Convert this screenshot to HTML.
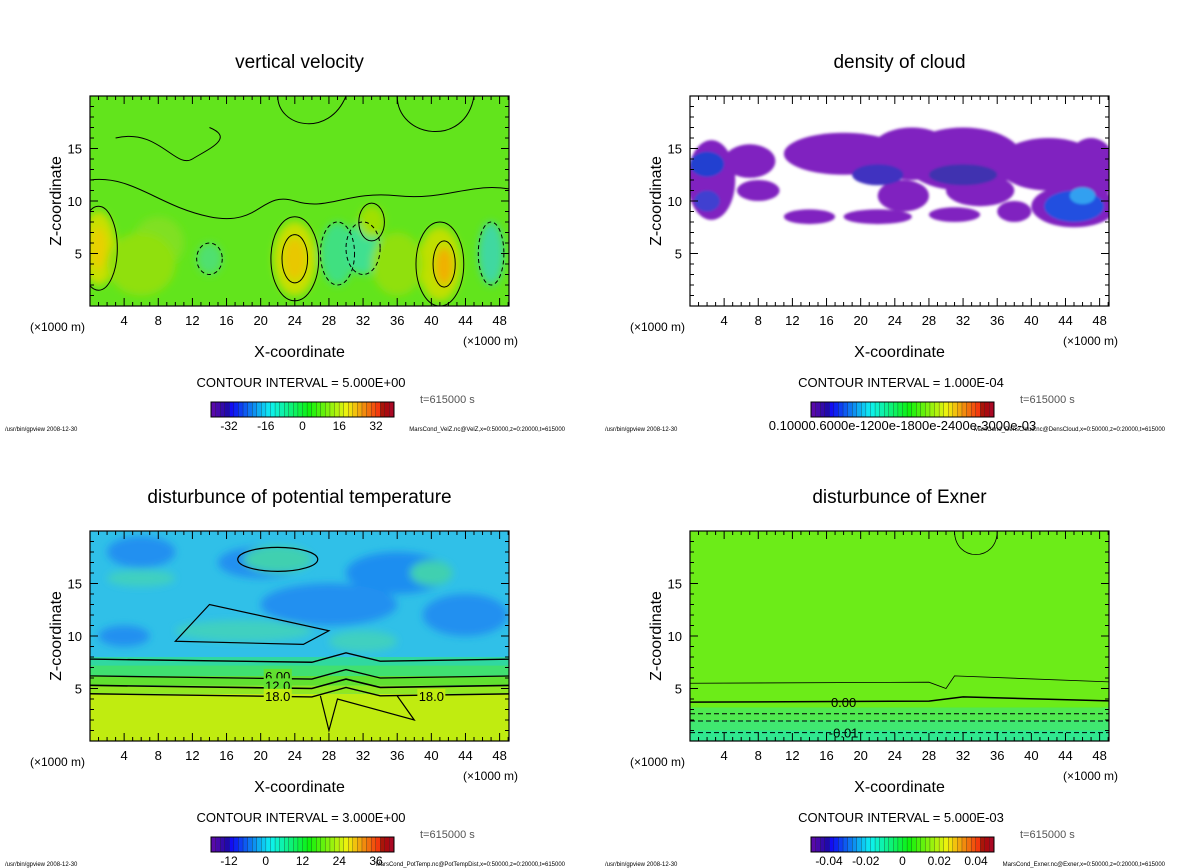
<!DOCTYPE html>
<html><head><meta charset="utf-8">
<style>
html,body{margin:0;padding:0;background:#fff;}
svg{display:block;font-family:"Liberation Sans","DejaVu Sans",sans-serif;}
</style></head>
<body>
<svg id="fig" width="1200" height="868" viewBox="0 0 1200 868" xmlns="http://www.w3.org/2000/svg">
<defs>
<filter id="bl" x="-50%" y="-50%" width="200%" height="200%"><feGaussianBlur stdDeviation="4"/></filter>
<filter id="bs" x="-50%" y="-50%" width="200%" height="200%"><feGaussianBlur stdDeviation="1.2"/></filter>
</defs>
</svg>
<script>
// ---- data ----
const xTicks = [4,8,12,16,20,24,28,32,36,40,44,48];
const zTicks = [5,10,15];
const titles = ["vertical velocity","density of cloud","disturbunce of potential temperature","disturbunce of Exner"];
const intervals = ["CONTOUR INTERVAL = 5.000E+00","CONTOUR INTERVAL = 1.000E-04","CONTOUR INTERVAL = 3.000E+00","CONTOUR INTERVAL = 5.000E-03"];
const cbLabels = [["-32","-16","0","16","32"],["0.10000.6000e-1200e-1800e-2400e-3000e-03"],["-12","0","12","24","36"],["-0.04","-0.02","0","0.02","0.04"]];
const files = ["MarsCond_VelZ.nc@VelZ,x=0:50000,z=0:20000,t=615000","MarsCond_DensCloud.nc@DensCloud,x=0:50000,z=0:20000,t=615000","MarsCond_PotTemp.nc@PotTempDist,x=0:50000,z=0:20000,t=615000","MarsCond_Exner.nc@Exner,x=0:50000,z=0:20000,t=615000"];
// blobs: [x km, z km, rx km, rz km, color]
const velBlobs = [[1,5.5,2,3.5,"#c8e000"],[1,5.5,1,2,"#e8d000"],[24,4.5,2.5,3.5,"#c8e000"],[24,4.5,1.3,2,"#e8c800"],[41,4,2.5,3.5,"#c0e000"],[41.5,3.8,1,1.8,"#f0b000"],[29,5,2,3,"#40e080"],[32,5.5,2,2.5,"#40e090"],[47,5,1.5,3,"#40d8a0"],[14,4.5,1.5,1.5,"#50e070"],[33,8,1.5,1.5,"#a0e000"],[8,6,3,2.5,"#80e020"],[6,4,4,3,"#90e010"],[36,4,3,3,"#90e010"]];
const cloudBlobs = [[2.5,12,2.8,3.8,"#8020c0"],[7,13.8,3,1.6,"#8020c0"],[8,11,2.5,1,"#8020c0"],[18,14.5,7,2,"#8020c0"],[26,14.5,5,2.5,"#8020c0"],[32,14,7,3,"#8020c0"],[42,13.5,6,2.5,"#8020c0"],[47,13,3,3,"#8020c0"],[45,9.5,5,2,"#8020c0"],[25,10.5,3,1.5,"#8020c0"],[34,11,4,1.5,"#8020c0"],[14,8.5,3,0.7,"#8020c0"],[22,8.5,4,0.7,"#8020c0"],[31,8.7,3,0.7,"#8020c0"],[38,9,2,1,"#8020c0"],[2,13.5,2,1.2,"#2040d0"],[22,12.5,3,1,"#4030c0"],[32,12.5,4,1,"#4030b0"],[45,9.5,3.5,1.5,"#2050e0"],[46,10.5,1.5,0.8,"#30a0f0"],[2,10,1.5,1,"#4040d0"]];
const thetaBands = [[0,4.5,"#c0ec10"],[4.5,5.3,"#90e820"],[5.3,6.2,"#60e030"],[6.2,7.2,"#40e070"],[7.2,8,"#30d8a0"],[8,20,"#30c0e8"]];
const thetaBlobs = [[6,18,4,1.5,"#2090f0"],[20,17,5,1.5,"#2090f0"],[36,16,6,2,"#1c8ef0"],[28,13,8,2,"#2090f0"],[44,12,5,2,"#2090f0"],[4,10,3,1,"#2090f0"],[22,17.3,4,1.3,"#40d0b0"],[40,16,2.5,1.2,"#40d0b0"],[18,10.5,8,1,"#40d0c0"],[32,9.5,4,1,"#40d0c0"],[6,15.5,4,0.8,"#40d0c0"]];
const exnerBands = [[0,1,"#30e890"],[1,2,"#40e870"],[2,3.2,"#50ea50"],[3.2,20,"#6cec18"]];
const panels = [[90,96],[690,96],[90,531],[690,531]];

const svg = document.getElementById('fig');
const NS = "http://www.w3.org/2000/svg";
const W = 419, H = 210, XMAX = 49.1, ZMAX = 20;
function mk(tag, attrs, parent){ const e=document.createElementNS(NS,tag); for(const k in attrs) e.setAttribute(k,attrs[k]); (parent||svg).appendChild(e); return e; }
function txt(x,y,s,size,anchor,parent,fill){ const t=mk('text',{x:x,y:y,'font-size':size,'text-anchor':anchor||'middle',fill:fill||'#000'},parent); t.textContent=s; return t; }

panels.forEach((p,i)=>{
  const [X0,Y0]=p;
  const sx = v => X0 + v/XMAX*W;
  const sz = v => Y0 + H - v/ZMAX*H;
  const g = mk('g',{});
  
  
  const t = txt(X0+W/2, Y0-28, titles[i], 19, 'middle', g);
  
  
  const cid='clip'+i;
  const cp=mk('clipPath',{id:cid},g); mk('rect',{x:X0,y:Y0,width:W,height:H},cp);
  const plot = mk('g',{'clip-path':'url(#'+cid+')'},g);
  
  
  let bg = ['#62e41c','#ffffff','#30c0e8','#6cec18'][i];
  mk('rect',{x:X0,y:Y0,width:W,height:H,fill:bg},plot);
  let blobs=[], bands=[];
  if(i===0) blobs=velBlobs; if(i===1) blobs=cloudBlobs; if(i===2){blobs=thetaBlobs;bands=thetaBands;} if(i===3) bands=exnerBands;
  bands.forEach(b=>{ const r=mk('rect',{x:X0,y:sz(b[1]),width:W,height:sz(b[0])-sz(b[1]),fill:b[2]},plot);
      });
  const bg2 = mk('g',{filter: i===1?'url(#bs)':'url(#bl)'},plot);
  blobs.forEach(b=>{ const e=mk('ellipse',{cx:sx(b[0]),cy:sz(b[1]),rx:b[2]/XMAX*W,ry:b[3]/ZMAX*H,fill:b[4]},bg2);
      });
  // contour lines
  if(i===0){
    [[1,5.5,2.2,4],[24,4.5,2.8,4],[41,4,2.8,4],[24,4.5,1.5,2.3],[41.5,4,1.3,2.2],[33,8,1.5,1.8]].forEach(c=>mk('ellipse',{cx:sx(c[0]),cy:sz(c[1]),rx:c[2]/XMAX*W,ry:c[3]/ZMAX*H,fill:'none',stroke:'#000','stroke-width':1},plot));
    [[29,5,2,3],[32,5.5,2,2.5],[47,5,1.5,3],[14,4.5,1.5,1.5]].forEach(c=>mk('ellipse',{cx:sx(c[0]),cy:sz(c[1]),rx:c[2]/XMAX*W,ry:c[3]/ZMAX*H,fill:'none',stroke:'#000','stroke-width':1,'stroke-dasharray':'4 3'},plot));
    mk('path',{d:`M${sx(0)},${sz(12)} C${sx(5)},${sz(12.5)} ${sx(8)},${sz(9.5)} ${sx(14)},${sz(8.5)} S${sx(20)},${sz(11)} ${sx(24)},${sz(10)} S${sx(30)},${sz(11)} ${sx(36)},${sz(10.5)} S${sx(45)},${sz(12)} ${sx(50)},${sz(11)}`,fill:'none',stroke:'#000'},plot);
    mk('path',{d:`M${sx(3)},${sz(16)} C${sx(8)},${sz(17)} ${sx(10)},${sz(13)} ${sx(12)},${sz(14)} S${sx(17)},${sz(16)} ${sx(14)},${sz(17)}`,fill:'none',stroke:'#000'},plot);
    mk('path',{d:`M${sx(22)},${sz(20)} C${sx(22)},${sz(17)} ${sx(28)},${sz(16)} ${sx(30)},${sz(20)}`,fill:'none',stroke:'#000'},plot);
    mk('path',{d:`M${sx(36)},${sz(20)} C${sx(36)},${sz(16)} ${sx(44)},${sz(15)} ${sx(45)},${sz(20)}`,fill:'none',stroke:'#000'},plot);
  }
  if(i===2){
    [[7.8,1.4],[6.2,1.3],[5.3,1.6],[4.5,1.4]].forEach(c=>mk('path',{d:`M${sx(0)},${sz(c[0])} L${sx(26)},${sz(c[0]-0.3)} L${sx(30)},${sz(c[0]+0.6)} L${sx(34)},${sz(c[0]-0.2)} L${sx(50)},${sz(c[0])}`,fill:'none',stroke:'#000','stroke-width':c[1]},plot));
    [["6.00",22,6.2],["12.0",22,5.3],["18.0",22,4.3],["18.0",40,4.3]].forEach(l=>{ mk('rect',{x:sx(l[1])-14,y:sz(l[2])-7,width:28,height:13,fill:l[2]>5?'#60e030':'#c0ec10'},plot); txt(sx(l[1]),sz(l[2])+5,l[0],13,'middle',plot);});
    mk('path',{d:`M${sx(10)},${sz(9.5)} L${sx(25)},${sz(9.2)} L${sx(28)},${sz(10.5)} L${sx(14)},${sz(13)} Z`,fill:'none',stroke:'#000','stroke-width':1.2},plot);
    mk('ellipse',{cx:sx(22),cy:sz(17.3),rx:40,ry:12,fill:'none',stroke:'#000','stroke-width':1.2},plot);
    mk('path',{d:`M${sx(27)},${sz(4.3)} L${sx(28)},${sz(1)} L${sx(29)},${sz(4)} L${sx(38)},${sz(2)} L${sx(36)},${sz(4.3)}`,fill:'none',stroke:'#000','stroke-width':1.2},plot);
  }
  if(i===3){
    mk('path',{d:`M${sx(0)},${sz(3.7)} L${sx(28)},${sz(3.8)} L${sx(32)},${sz(4.2)} L${sx(50)},${sz(3.8)}`,fill:'none',stroke:'#000','stroke-width':1.5},plot);
    mk('path',{d:`M${sx(0)},${sz(5.5)} L${sx(28)},${sz(5.6)} L${sx(30)},${sz(5)} L${sx(31)},${sz(6.2)} L${sx(50)},${sz(5.6)}`,fill:'none',stroke:'#000','stroke-width':0.8},plot);
    [2.6,1.9,0.8].forEach(z=>mk('path',{d:`M${sx(0)},${sz(z)} L${sx(50)},${sz(z)}`,fill:'none',stroke:'#000','stroke-dasharray':'5 3'},plot));
    mk('path',{d:`M${sx(31)},${sz(20)} C${sx(31)},${sz(17)} ${sx(36)},${sz(17)} ${sx(36)},${sz(20)}`,fill:'none',stroke:'#000','stroke-width':0.8},plot);
    txt(sx(18),sz(3.7)+5,"0.00",13,'middle',plot); txt(sx(18),sz(0.8)+5,"-0.01",13,'middle',plot);
  }
  // frame + ticks
  const fr=mk('rect',{x:X0,y:Y0,width:W,height:H,fill:'none',stroke:'#000','stroke-width':1.2},g);
   
  for(let v=1; v<XMAX; v++){ const L = v%4===0?8:4; mk('line',{x1:sx(v),y1:Y0+H,x2:sx(v),y2:Y0+H-L,stroke:'#000'},g); mk('line',{x1:sx(v),y1:Y0,x2:sx(v),y2:Y0+L,stroke:'#000'},g); }
  for(let v=1; v<ZMAX; v++){ const L = v%5===0?8:4; mk('line',{x1:X0,y1:sz(v),x2:X0+L,y2:sz(v),stroke:'#000'},g); mk('line',{x1:X0+W,y1:sz(v),x2:X0+W-L,y2:sz(v),stroke:'#000'},g); }
  xTicks.forEach(v=>{ const t=txt(sx(v),Y0+H+19,String(v),13,'middle',g);   });
  zTicks.forEach(v=>{ const t=txt(X0-8,sz(v)+5,String(v),13,'end',g);   });
  txt(X0-60,Y0+H+25,"(×1000 m)",12,'start',g); txt(X0+W+9,Y0+H+39,"(×1000 m)",12,'end',g);
  const xl=txt(X0+W/2,Y0+H+51,"X-coordinate",16,'middle',g);  
  const yl=txt(0,0,"Z-coordinate",16,'middle',g); yl.setAttribute('transform',`translate(${X0-29},${Y0+H/2}) rotate(-90)`);
   
  const ci=txt(X0+211,Y0+H+81,intervals[i],13,'middle',g);  
  // colorbar
  const cb=mk('g',{},g);  
  const cbx=X0+121, cby=Y0+H+96, cbw=183, cbh=15, n=40;
  for(let k=0;k<n;k++){ const h = 270 - k/(n-1)*280; mk('rect',{x:cbx+k*cbw/n,y:cby,width:cbw/n+0.3,height:cbh,fill:`hsl(${(h+360)%360},90%,${k<4||k>36?35:50}%)`,stroke:'#222','stroke-width':0.3},cb); }
  mk('rect',{x:cbx,y:cby,width:cbw,height:cbh,fill:'none',stroke:'#000'},cb);
  const labs=cbLabels[i];
  if(labs.length===1) txt(cbx+cbw/2,cby+cbh+13,labs[0],13,'middle',cb);
  else labs.forEach((s,k)=>txt(cbx+18+k*(cbw-36)/4,cby+cbh+13,s,12,'middle',cb));
  const tt=txt(X0+330,Y0+H+97,"t=615000 s",11,'start',g,'#555');  
  txt(X0-85,Y0+H+125,"/usr/bin/gpview  2008-12-30",6,'start',g);
  txt(X0+475,Y0+H+125,files[i],6,'end',g);
});
</script>
</body></html>
